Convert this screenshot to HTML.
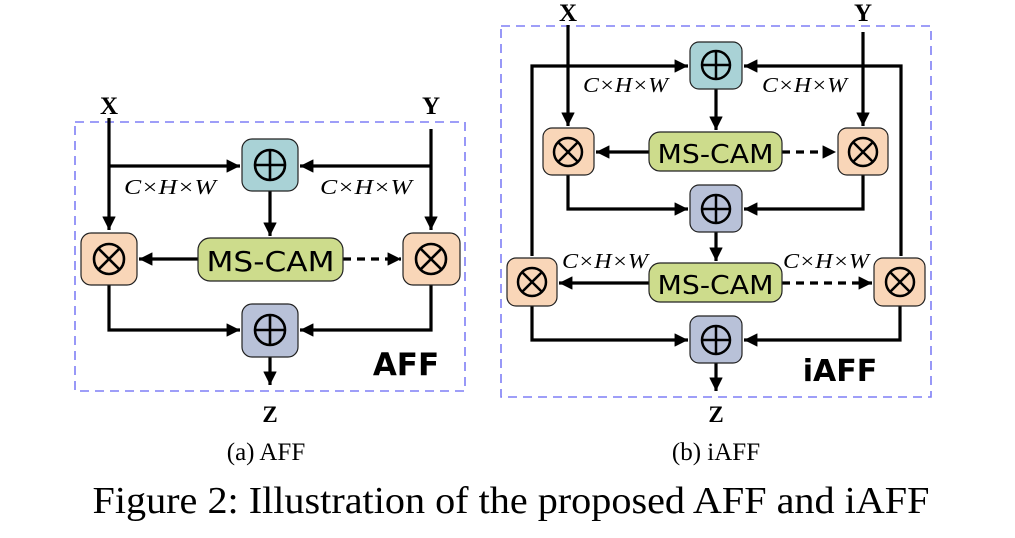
<!DOCTYPE html>
<html><head><meta charset="utf-8"><style>
html,body{margin:0;padding:0;background:#fff;}
svg{display:block;}
.s{font-family:"Liberation Serif",serif;}
.d{font-family:"DejaVu Sans","Liberation Sans",sans-serif;}
</style></head><body>
<svg width="1015" height="538" viewBox="0 0 1015 538" xmlns="http://www.w3.org/2000/svg">
<defs>
<marker id="a" viewBox="0 0 10 10" refX="10" refY="5" markerWidth="4.4" markerHeight="4.2" orient="auto" markerUnits="strokeWidth"><path d="M0,0 L10,5 L0,10 z" fill="#000"/></marker>
<g id="plus"><circle r="15" fill="none" stroke="#000" stroke-width="2.6"/><path d="M-15,0H15M0,-15V15" stroke="#000" stroke-width="2.6"/></g>
<g id="mul"><circle r="15" fill="none" stroke="#000" stroke-width="2.6"/><path d="M-10.6,-10.6L10.6,10.6M-10.6,10.6L10.6,-10.6" stroke="#000" stroke-width="2.6"/></g>
<g id="plus2"><circle r="14" fill="none" stroke="#000" stroke-width="2.5"/><path d="M-14,0H14M0,-14V14" stroke="#000" stroke-width="2.5"/></g>
<g id="mul2"><circle r="14" fill="none" stroke="#000" stroke-width="2.5"/><path d="M-9.9,-9.9L9.9,9.9M-9.9,9.9L9.9,-9.9" stroke="#000" stroke-width="2.5"/></g>
</defs>
<g fill="none" stroke="#000" stroke-width="3.2">
<rect x="75" y="122" width="390" height="269" stroke="#7f7ff5" stroke-width="1.6" stroke-dasharray="9,6"/>
<path d="M109,118V230" marker-end="url(#a)"/>
<path d="M109,166H240" marker-end="url(#a)"/>
<path d="M431,129V230" marker-end="url(#a)"/>
<path d="M431,166H300" marker-end="url(#a)"/>
<path d="M270,191V236" marker-end="url(#a)"/>
<path d="M198,259H139" marker-end="url(#a)"/>
<path d="M343,259H401" stroke-dasharray="8,6" marker-end="url(#a)"/>
<path d="M109,285V330H240" marker-end="url(#a)"/>
<path d="M431,285V330H300" marker-end="url(#a)"/>
<path d="M270,357V385" marker-end="url(#a)"/>
<rect x="501" y="26" width="430" height="371" stroke="#7f7ff5" stroke-width="1.6" stroke-dasharray="9,6"/>
<path d="M568,25V126" marker-end="url(#a)"/>
<path d="M863,32V126" marker-end="url(#a)"/>
<path d="M532,256V66H688" marker-end="url(#a)"/>
<path d="M901,256V66H744" marker-end="url(#a)"/>
<path d="M716,89V130" marker-end="url(#a)"/>
<path d="M649,152H596" marker-end="url(#a)"/>
<path d="M782,152H836" stroke-dasharray="8,6" marker-end="url(#a)"/>
<path d="M568,175V209H688" marker-end="url(#a)"/>
<path d="M863,175V209H744" marker-end="url(#a)"/>
<path d="M716,232V261" marker-end="url(#a)"/>
<path d="M649,283H559" marker-end="url(#a)"/>
<path d="M782,283H872" stroke-dasharray="8,6" marker-end="url(#a)"/>
<path d="M532,306V340H688" marker-end="url(#a)"/>
<path d="M900,306V340H744" marker-end="url(#a)"/>
<path d="M716,363V391" marker-end="url(#a)"/>
</g>
<g stroke="#222" stroke-width="1.2">
<rect x="242" y="139" width="56" height="52" rx="10" fill="#a9d2d6"/>
<rect x="242" y="304" width="56" height="53" rx="10" fill="#b8c1d8"/>
<rect x="81" y="233" width="56" height="52" rx="10" fill="#f9d6b8"/>
<rect x="403" y="233" width="57" height="52" rx="10" fill="#f9d6b8"/>
<rect x="198" y="238" width="145" height="43" rx="12" fill="#cddc8c"/>
<rect x="690" y="42" width="52" height="47" rx="9" fill="#a9d2d6"/>
<rect x="690" y="185" width="52" height="47" rx="9" fill="#b8c1d8"/>
<rect x="690" y="316" width="52" height="47" rx="9" fill="#b8c1d8"/>
<rect x="543" y="128" width="51" height="47" rx="9" fill="#f9d6b8"/>
<rect x="838" y="128" width="50" height="47" rx="9" fill="#f9d6b8"/>
<rect x="507" y="258" width="50" height="48" rx="9" fill="#f9d6b8"/>
<rect x="874" y="258" width="51" height="48" rx="9" fill="#f9d6b8"/>
<rect x="649" y="132" width="133" height="39" rx="11" fill="#cddc8c"/>
<rect x="649" y="263" width="133" height="39" rx="11" fill="#cddc8c"/>
</g>
<use href="#plus" x="270" y="165"/>
<use href="#plus" x="270" y="330"/>
<use href="#mul" x="109" y="259"/>
<use href="#mul" x="431" y="259"/>
<use href="#plus2" x="716" y="65"/>
<use href="#plus2" x="716" y="209"/>
<use href="#plus2" x="716" y="340"/>
<use href="#mul2" x="568" y="152"/>
<use href="#mul2" x="863" y="152"/>
<use href="#mul2" x="532" y="282"/>
<use href="#mul2" x="900" y="282"/>
<g class="d" fill="#000" text-anchor="middle">
<text x="270.5" y="271" font-size="28" textLength="128" lengthAdjust="spacingAndGlyphs">MS-CAM</text>
<text x="715.5" y="163" font-size="26" textLength="116" lengthAdjust="spacingAndGlyphs">MS-CAM</text>
<text x="715.5" y="294" font-size="26" textLength="116" lengthAdjust="spacingAndGlyphs">MS-CAM</text>
<text x="406" y="375" font-size="31" font-weight="bold">AFF</text>
<text x="840" y="381" font-size="30" font-weight="bold">iAFF</text>
</g>
<g class="s" fill="#000" font-style="italic" font-size="21">
<text x="124" y="194" textLength="92" lengthAdjust="spacingAndGlyphs">C×H×W</text>
<text x="320" y="194" textLength="92" lengthAdjust="spacingAndGlyphs">C×H×W</text>
<text x="583" y="92" textLength="85" lengthAdjust="spacingAndGlyphs">C×H×W</text>
<text x="762" y="92" textLength="85" lengthAdjust="spacingAndGlyphs">C×H×W</text>
<text x="562" y="268" textLength="86" lengthAdjust="spacingAndGlyphs">C×H×W</text>
<text x="783" y="268" textLength="86" lengthAdjust="spacingAndGlyphs">C×H×W</text>
</g>
<g class="s" fill="#000" text-anchor="middle">
<text x="109" y="114" font-size="25" font-weight="bold">X</text>
<text x="431" y="114" font-size="25" font-weight="bold">Y</text>
<text x="568" y="21" font-size="25" font-weight="bold">X</text>
<text x="863" y="21" font-size="25" font-weight="bold">Y</text>
<text x="270" y="422" font-size="23" font-weight="bold">Z</text>
<text x="716" y="422" font-size="23" font-weight="bold">Z</text>
<text x="266" y="460" font-size="25">(a) AFF</text>
<text x="716" y="460" font-size="25">(b) iAFF</text>
<text x="511" y="513" font-size="38" textLength="837" lengthAdjust="spacingAndGlyphs">Figure 2: Illustration of the proposed AFF and iAFF</text>
</g>
</svg>
</body></html>
